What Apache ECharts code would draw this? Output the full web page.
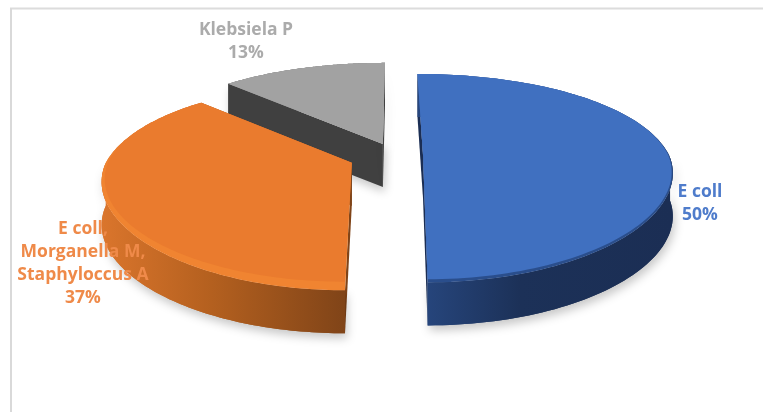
<!DOCTYPE html>
<html>
<head>
<meta charset="utf-8">
<style>html,body{margin:0;padding:0;background:#fff}#chart{width:763px;height:412px}</style>
<script src="https://cdn.jsdelivr.net/npm/echarts@6/dist/echarts.min.js"></script>
</head>
<body>
<div id="chart"></div>
<script>
// Isolates per organism group, as percent of the total
const categories = ['E coll', 'E coll,\nMorganella M,\nStaphyloccus A', 'Klebsiela P'];
const percents = [50, 37, 13];

// Look of each slice, same order as the categories
const faceColors = ['#4070C0', '#EA7B2E', '#A2A2A2'];
const rimColors = ['#2A4E8C', '#F08431', '#A2A2A2'];
const labelColors = ['#4F7CCB', '#EF8A49', '#ABABAB'];
const wallStops = [
  [[0, '#27477F'], [0.4, '#1C3158'], [1, '#1B2E54']],
  [[0, '#DA752C'], [0.45, '#B4601F'], [1, '#804418']],
  [[0, '#404040'], [1, '#404040']]
];
const explodeBy = [29, 46, 28];
const labelAnchors = [[700, 204], [83, 264], [246, 42]];
const drawOrder = [3, 2, 1];

// Tilted-disc projection
const CX = 394, CY = 155, RX = 246, RY = 103.5;
const DEPTH = 43, NEAR_GROW = 0.16, FAR_SHRINK = 0.19, TILT = 0.43;
const RIM = [3, 8, 0];

function project(apex, theta, radius) {
  const v = -Math.cos(theta);
  const sx = 1 + (v < 0 ? FAR_SHRINK : NEAR_GROW) * v;
  const sy = 1 + NEAR_GROW * v;
  return [
    CX + (apex[0] - CX + radius * RX * Math.sin(theta)) * sx,
    apex[1] + radius * RY * v * Math.pow(sy, 1.4)
  ];
}

function sliceSpans() {
  const total = percents.reduce((a, b) => a + b, 0);
  let running = 0;
  return percents.map((p) => {
    const start = running / total * 2 * Math.PI;
    running += p;
    return [start, running / total * 2 * Math.PI];
  });
}

function arcPoints(apex, a0, a1, radius, rimWidth) {
  const pts = [];
  for (let i = 0; i <= 120; i++) {
    const t = a0 + (a1 - a0) * i / 120;
    const v = -Math.cos(t);
    const inset = rimWidth * Math.max(0, (v + 0.35) / 1.35);
    const p = project(apex, t, radius - inset / RX);
    pts.push([p[0], p[1] - inset * (v > 0 ? v : 0) * 0.55]);
  }
  return pts;
}

const down = (pts) => pts.map((p) => [p[0], p[1] + DEPTH]);

function renderSlice(params, api) {
  const i = params.dataIndex;
  const span = sliceSpans()[i];
  const mid = (span[0] + span[1]) / 2;
  const apex = [
    CX + explodeBy[i] * Math.sin(mid),
    CY - explodeBy[i] * TILT * Math.cos(mid)
  ];
  const z = drawOrder[i] * 10;
  const arc = arcPoints(apex, span[0], span[1], 1, 0);
  const inner = arcPoints(apex, span[0], span[1], 1, RIM[i]);
  const xs = arc.map((p) => p[0]);
  const ys = arc.map((p) => p[1]);
  const wallFill = {
    type: 'linear', global: true,
    x: Math.min(...xs), y: 0, x2: Math.max(...xs), y2: 0,
    colorStops: wallStops[i].map((s) => ({ offset: s[0], color: s[1] }))
  };
  const softShadow = {
    shadowBlur: 10, shadowColor: 'rgba(0,0,0,0.22)', shadowOffsetX: 2, shadowOffsetY: 5
  };
  const first = arc[0], last = arc[arc.length - 1];
  const quad = (a, b, extra) => ({
    type: 'polygon', z2: z,
    shape: { points: [a, b, [b[0], b[1] + DEPTH], [a[0], a[1] + DEPTH]] },
    style: Object.assign({ fill: wallStops[i][wallStops[i].length - 1][1] }, extra)
  });
  const children = [
    quad(apex, first, i === 2 ? softShadow : {}),
    quad(apex, last, i === 2 ? softShadow : {})
  ];
  // Only the part of the rim facing the viewer throws a shadow on the page
  const frontArc = arc.filter((p, k) => {
    const t = span[0] + (span[1] - span[0]) * k / 120;
    return -Math.cos(t) > 0;
  });
  if (frontArc.length > 1) {
    children.push({
      type: 'polygon', z2: z,
      shape: { points: frontArc.concat(down(frontArc).reverse()) },
      style: Object.assign({ fill: wallFill }, softShadow)
    });
  }
  children.push({
    type: 'polygon', z2: z + 1,
    shape: { points: arc.concat(down(arc).reverse()) },
    style: { fill: wallFill }
  });
  children.push({
    type: 'polygon', z2: z + 2,
    shape: { points: [apex].concat(arc) },
    style: {
      fill: {
        type: 'linear', global: true,
        x: 0, y: Math.min(...ys), x2: 0, y2: Math.max(...ys),
        colorStops: [
          { offset: 0, color: faceColors[i] },
          { offset: 0.4, color: rimColors[i] },
          { offset: 1, color: rimColors[i] }
        ]
      }
    }
  });
  children.push({
    type: 'polygon', z2: z + 3,
    shape: { points: [apex].concat(inner) },
    style: { fill: faceColors[i] }
  });
  children.push({
    type: 'text', z2: 100,
    x: labelAnchors[i][0], y: labelAnchors[i][1],
    style: {
      text: categories[i] + '\n' + api.value(0) + '%',
      fill: labelColors[i],
      font: '700 17.5px "Open Sans", Lato, sans-serif',
      lineHeight: 23,
      align: 'center',
      verticalAlign: 'middle'
    }
  });
  return { type: 'group', children };
}

const chart = echarts.init(document.getElementById('chart'), null, { renderer: 'canvas' });
chart.setOption({
  animation: false,
  backgroundColor: '#ffffff',
  graphic: [
    { type: 'line', shape: { x1: 10, y1: 8.5, x2: 763, y2: 8.5 }, style: { stroke: '#DCDCDC', lineWidth: 2 } },
    { type: 'line', shape: { x1: 11, y1: 8, x2: 11, y2: 412 }, style: { stroke: '#D9D9D9', lineWidth: 2 } }
  ],
  series: [{
    type: 'custom',
    coordinateSystem: 'none',
    renderItem: renderSlice,
    data: percents.map((p) => [p]),
    silent: true
  }]
});
</script>
</body>
</html>
